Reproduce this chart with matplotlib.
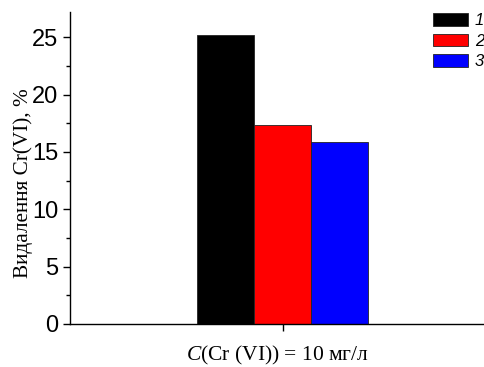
import matplotlib
matplotlib.use("Agg")
import matplotlib.pyplot as plt
from matplotlib.ticker import MultipleLocator

plt.rcParams["mathtext.fontset"] = "custom"
plt.rcParams["mathtext.it"] = "Liberation Serif:italic"
plt.rcParams["mathtext.rm"] = "Liberation Serif"

# Data
series_labels = ["1", "2", "3"]
values = [25.2, 17.35, 15.85]
colors = ["#000000", "#ff0000", "#0000ff"]
category = r"$\mathit{C}$(Cr (VI)) = 10 мг/л"
ylabel = "Видалення Cr(VI), %"

fig = plt.figure(figsize=(4.85, 3.67), dpi=100)
ax = fig.add_axes([70/485, 43/367, 415/485, 312/367])

unit = 57.0
offsets = [-1, 0, 1]
for off, v, c, lab in zip(offsets, values, colors, series_labels):
    ax.bar(off, v, width=1.0, color=c, edgecolor="#222222", linewidth=0.6, label=lab)

ax.set_xlim(-213/unit, 202/unit)
ax.set_ylim(0, 27.2)
ax.set_xticks([0])
ax.set_xticklabels([""])
ax.yaxis.set_major_locator(MultipleLocator(5))
ax.yaxis.set_minor_locator(MultipleLocator(2.5))
ax.tick_params(axis="y", which="major", direction="out", length=5, width=1, labelsize=17, pad=3.5)
ax.tick_params(axis="y", which="minor", direction="out", length=3, width=1)
ax.tick_params(axis="x", which="major", direction="out", length=5, width=1)
for lbl in ax.get_yticklabels():
    lbl.set_fontfamily("Liberation Sans")

ax.spines["top"].set_visible(False)
ax.spines["right"].set_visible(False)
ax.spines["left"].set_linewidth(1)
ax.spines["bottom"].set_linewidth(1)

ax.set_ylabel(ylabel, fontfamily="Liberation Serif", fontsize=15.3)
ax.yaxis.set_label_coords(-37/415, (324 - 183) / 312)
ax.set_xlabel(category, fontfamily="Liberation Serif", fontsize=15.5, labelpad=6)

leg = fig.legend(loc="upper right", bbox_to_anchor=(1.0 - 1/485, 1 - 13/367), frameon=False,
                 prop={"family": "Liberation Sans", "style": "italic", "size": 12},
                 handlelength=2.1, handleheight=0.8, handletextpad=0.4,
                 labelspacing=0.33, borderaxespad=0.0, borderpad=0.0)

fig.savefig("out.png", dpi=100)
